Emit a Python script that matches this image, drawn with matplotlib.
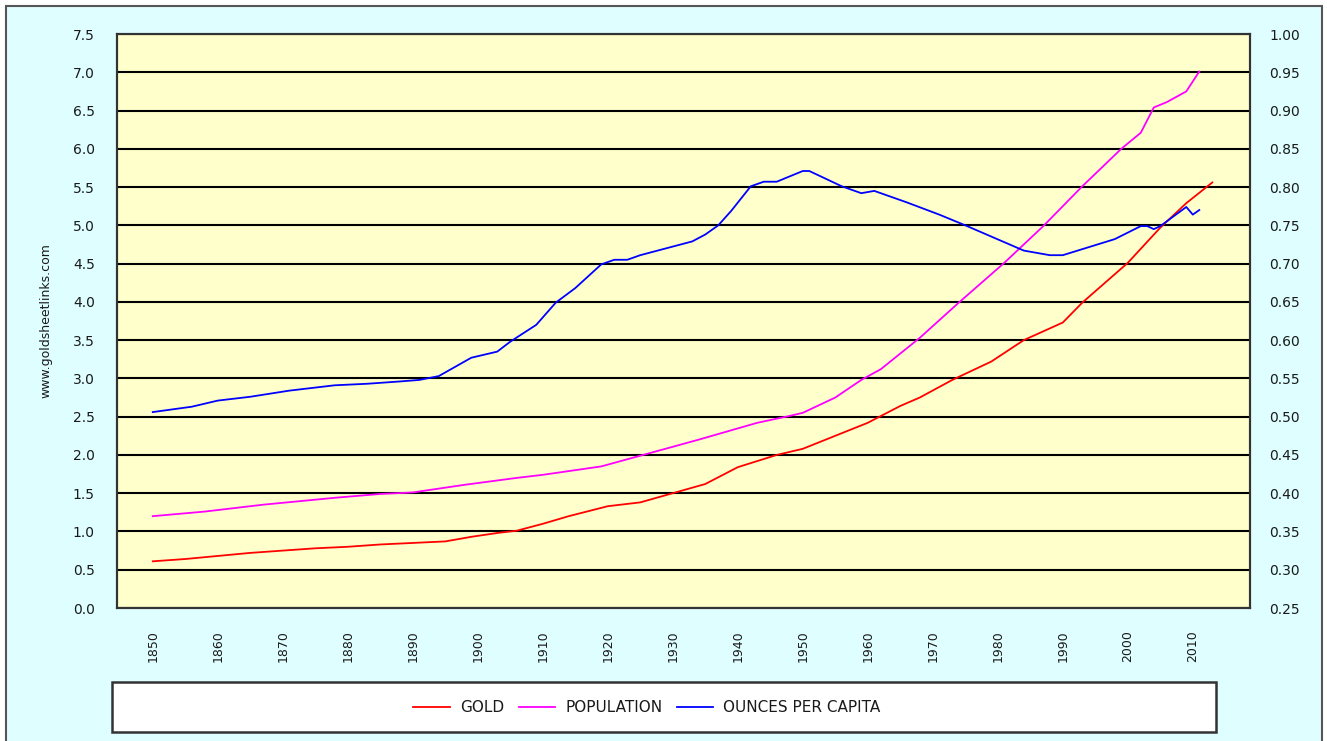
import matplotlib.pyplot as plt
from matplotlib.patches import Rectangle
from matplotlib.ticker import FormatStrFormatter

# data
gold_years = [1850, 1855, 1860, 1865, 1870, 1875, 1880, 1885, 1890, 1895, 1899, 1903, 1906,
              1910, 1914, 1920, 1925, 1930, 1935, 1940, 1946, 1950, 1955, 1960, 1965, 1968,
              1973, 1979, 1984, 1990, 1993, 2000, 2005, 2009, 2013]
gold = [0.61, 0.64, 0.68, 0.72, 0.75, 0.78, 0.80, 0.83, 0.85, 0.87, 0.93, 0.98, 1.01,
        1.10, 1.20, 1.33, 1.38, 1.50, 1.62, 1.84, 2.00, 2.08, 2.25, 2.42, 2.64, 2.75,
        2.98, 3.22, 3.50, 3.73, 3.99, 4.51, 4.97, 5.29, 5.56]

pop_years = [1850, 1858, 1867, 1878, 1885, 1890, 1898, 1906, 1910, 1919, 1925, 1934, 1943,
             1948, 1950, 1955, 1959, 1962, 1968, 1974, 1981, 1987, 1993, 1999, 2002, 2004,
             2006, 2009, 2011]
population = [1.20, 1.26, 1.35, 1.44, 1.49, 1.51, 1.61, 1.70, 1.74, 1.85, 1.99, 2.20, 2.42,
              2.51, 2.55, 2.75, 2.98, 3.12, 3.53, 3.99, 4.51, 4.99, 5.51, 6.00, 6.21, 6.54,
              6.61, 6.75, 7.01]

opc_years = [1850, 1856, 1860, 1865, 1871, 1878, 1883, 1888, 1891, 1894, 1899, 1903, 1905,
             1909, 1912, 1915, 1919, 1921, 1923, 1925, 1933, 1935, 1937, 1939, 1942, 1944,
             1946, 1950, 1951, 1956, 1959, 1961, 1966, 1971, 1975, 1984, 1988, 1990, 1998,
             2002, 2003, 2004, 2005, 2009, 2010, 2011]
ounces = [0.506, 0.513, 0.521, 0.526, 0.534, 0.541, 0.543, 0.546, 0.548, 0.553, 0.577, 0.585,
          0.598, 0.620, 0.649, 0.668, 0.699, 0.705, 0.705, 0.711, 0.729, 0.738, 0.750, 0.769,
          0.801, 0.807, 0.807, 0.821, 0.821, 0.801, 0.792, 0.795, 0.780, 0.764, 0.750, 0.717,
          0.711, 0.711, 0.732, 0.749, 0.749, 0.745, 0.749, 0.774, 0.764, 0.770]

xtick_years = list(range(1850, 2011, 10))

fig = plt.figure(figsize=(13.27, 7.41), dpi=100)
fig.patch.set_facecolor('white')

# outer frame, light cyan
fig.patches.append(Rectangle((6/1327, -0.05), 1316/1327, 1.05 - 6/741, transform=fig.transFigure,
                             facecolor='#DEFEFF', edgecolor='#555555', lw=1.5, zorder=-10))
# legend box
fig.patches.append(Rectangle((112/1327, 1 - 732/741), 1104/1327, 50/741, transform=fig.transFigure,
                             facecolor='white', edgecolor='#333333', lw=1.8, zorder=-5))

ax = fig.add_axes([117/1327, 1 - 608/741, 1133/1327, 574/741])
ax.set_facecolor('#FFFFCC')
ax2 = ax.twinx()

l1, = ax.plot(gold_years, gold, color='#FF0000', lw=1.3, label='GOLD')
l2, = ax.plot(pop_years, population, color='#FF00FF', lw=1.3, label='POPULATION')
l3, = ax2.plot(opc_years, ounces, color='#0000FF', lw=1.3, label='OUNCES PER CAPITA')

ax.set_xlim(1844.5, 2018.8)
ax.set_ylim(0, 7.5)
ax.set_yticks([i * 0.5 for i in range(16)])
ax.yaxis.set_major_formatter(FormatStrFormatter('%.1f'))
ax2.set_ylim(0.25, 1.00)
ax2.set_yticks([0.25 + i * 0.05 for i in range(16)])
ax2.yaxis.set_major_formatter(FormatStrFormatter('%.2f'))

ax.grid(axis='y', color='black', lw=1.5)
ax.set_axisbelow(True)
ax.set_xticks(xtick_years)
ax.set_xticklabels([str(y) for y in xtick_years], rotation=90)

ax.tick_params(axis='x', length=0, pad=16, labelsize=9, labelcolor='#1a1a1a')
ax.tick_params(axis='y', length=0, pad=16, labelsize=10, labelcolor='#1a1a1a')
ax2.tick_params(axis='y', length=0, pad=14, labelsize=10, labelcolor='#1a1a1a')

for a in (ax, ax2):
    for s in a.spines.values():
        s.set_color('#333333')
        s.set_linewidth(1.5)

ax.set_ylabel('www.goldsheetlinks.com', fontsize=9, color='#1a1a1a')
ax.yaxis.set_label_coords(-0.057, 0.5)

fig.legend(handles=[l1, l2, l3], loc='center', bbox_to_anchor=(647/1327, 1 - 708/741),
           ncol=3, frameon=False, fontsize=11, handlelength=2.4, handletextpad=0.65,
           columnspacing=0.95, labelcolor='#1a1a1a')

plt.savefig('out.png', dpi=100, facecolor=fig.get_facecolor())
